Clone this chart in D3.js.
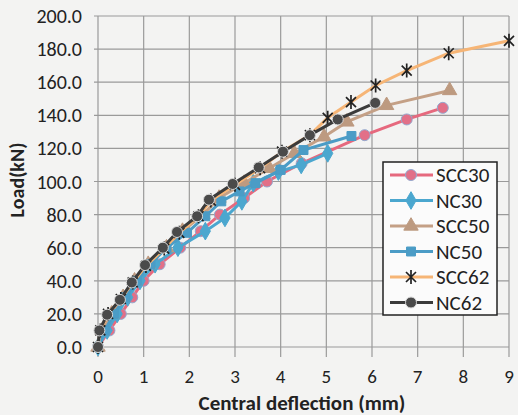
<!DOCTYPE html>
<html>
<head>
<meta charset="utf-8">
<script src="https://cdn.jsdelivr.net/npm/d3@7"></script>
<style>
body { margin: 0; background: #f3f3f2; }
svg { display: block; font-family: Carlito, Lato, "Open Sans", sans-serif; }
</style>
</head>
<body>
<div id="chart"></div>
<script>
var width = 518;
var height = 415;

// deflection (mm), load (kN)
var scc30 = [[0,0],[0.25,10],[0.5,20],[0.75,30],[1.0,40],[1.35,50],[1.8,60],[2.25,70],[2.67,80],[3.2,90],[3.7,100],[4.46,111],[5.84,128],[6.76,137.5],[7.55,144.5]];
var nc30 = [[0,0],[0.2,10],[0.42,20],[0.65,30],[0.92,40],[1.25,50],[1.75,60],[2.35,70],[2.78,78],[3.15,88],[3.4,99],[3.95,106],[4.45,110],[5.03,117]];
var scc50 = [[0,0],[0.1,10],[0.3,20],[0.55,30],[0.8,40],[1.1,50],[1.5,60],[1.85,70],[2.3,80],[2.65,90],[3.2,99],[3.75,108],[4.3,117],[4.95,127],[5.45,136],[6.32,146],[7.7,155]];
var nc50 = [[0,0],[0.15,10],[0.35,20],[0.6,30],[0.85,40],[1.15,50],[1.5,60],[1.95,69],[2.35,79],[2.7,88],[3.1,94],[3.45,99],[4.0,107],[4.5,119],[5.55,127.5]];
var scc62 = [[0,0],[0.05,10],[0.22,20],[0.5,29],[0.76,39],[1.05,49],[1.45,59.5],[1.78,69],[2.2,79],[2.47,88.5],[3.0,98],[3.55,108],[4.03,118],[4.64,128],[5.03,138.5],[5.54,148],[6.08,158],[6.76,167],[7.68,177.5],[9.0,185]];
var nc62 = [[0,0],[0.03,10],[0.2,19.5],[0.48,28.5],[0.74,39],[1.03,49.5],[1.42,60],[1.73,69.5],[2.17,79],[2.43,89],[2.95,98.5],[3.52,108.5],[4.05,118],[4.64,128],[5.25,137.5],[6.07,147.5]];

var seriesNames = ["SCC30", "NC30", "SCC50", "NC50", "SCC62", "NC62"];
var seriesData = [scc30, nc30, scc50, nc50, scc62, nc62];
var xTicks = [0,1,2,3,4,5,6,7,8,9];
var yTicks = [0,20,40,60,80,100,120,140,160,180,200];

var styles = {
    SCC30: {line: "#e6697e", marker: "circle", fill: "#e27088", stroke: "#93a9cf"},
    NC30:  {line: "#4ba7cf", marker: "diamond", fill: "#4ba7cf", stroke: "#4ba7cf"},
    SCC50: {line: "#c4a086", marker: "triangle", fill: "#bd9a80", stroke: "#bd9a80"},
    NC50:  {line: "#4b9cc6", marker: "square", fill: "#4b9cc6", stroke: "#4b9cc6"},
    SCC62: {line: "#f6b576", marker: "star", fill: "none", stroke: "#222"},
    NC62:  {line: "#3b3b3b", marker: "circle", fill: "#4a4a4a", stroke: "#d8d8d8"}
};

var svg = d3.select("#chart").append("svg")
    .attr("width", width)
    .attr("height", height);

var x = d3.scaleLinear().domain([0, 9]).range([98, 509]);
var y = d3.scaleLinear().domain([0, 200]).range([347, 16]);

// grid
svg.append("g").selectAll("line.h")
    .data(yTicks).enter().append("line")
    .attr("x1", x(0) - 4).attr("x2", x(9))
    .attr("y1", function(d) { return y(d); })
    .attr("y2", function(d) { return y(d); })
    .attr("stroke", "#9a9a9a").attr("stroke-width", 1.2);

svg.append("g").selectAll("line.v")
    .data(xTicks).enter().append("line")
    .attr("x1", function(d) { return x(d); })
    .attr("x2", function(d) { return x(d); })
    .attr("y1", y(200)).attr("y2", y(0) + 10)
    .attr("stroke", "#9a9a9a").attr("stroke-width", 1.2);

// tick labels
svg.append("g").selectAll("text")
    .data(yTicks).enter().append("text")
    .attr("x", 82)
    .attr("y", function(d) { return y(d); })
    .attr("dy", "0.35em")
    .attr("text-anchor", "end")
    .attr("font-size", 20)
    .attr("fill", "#222")
    .text(d3.format(".1f"));

svg.append("g").selectAll("text")
    .data(xTicks).enter().append("text")
    .attr("x", function(d) { return x(d); })
    .attr("y", 376)
    .attr("dy", "0.35em")
    .attr("text-anchor", "middle")
    .attr("font-size", 19)
    .attr("fill", "#222")
    .text(function(d) { return d; });

svg.append("text")
    .attr("transform", "translate(17,180) rotate(-90)")
    .attr("text-anchor", "middle")
    .attr("dy", "0.35em")
    .attr("font-size", 20)
    .attr("font-weight", "bold")
    .attr("fill", "#222")
    .text("Load(kN)");

svg.append("text")
    .attr("x", 302)
    .attr("y", 403)
    .attr("dy", "0.35em")
    .attr("text-anchor", "middle")
    .attr("font-size", 21)
    .attr("font-weight", "bold")
    .attr("fill", "#222")
    .text("Central deflection (mm)");

function markerPath(type) {
    if (type == "circle") return d3.symbol(d3.symbolCircle, 95)();
    if (type == "diamond") return d3.symbol(d3.symbolDiamond, 90)();
    if (type == "triangle") return d3.symbol(d3.symbolTriangle, 90)();
    if (type == "square") return d3.symbol(d3.symbolSquare, 80)();
    return "M-5,-5L5,5M-5,5L5,-5M0,-7L0,7";
}

var line = d3.line()
    .x(function(d) { return x(d[0]); })
    .y(function(d) { return y(d[1]); });

seriesData.forEach(function(data, i) {
    var st = styles[seriesNames[i]];
    var g = svg.append("g");
    g.append("path")
        .datum(data)
        .attr("d", line)
        .attr("fill", "none")
        .attr("stroke", st.line)
        .attr("stroke-width", 3);
    g.selectAll("path.m")
        .data(data).enter().append("path")
        .attr("transform", function(d) { return "translate(" + x(d[0]) + "," + y(d[1]) + ")"; })
        .attr("d", markerPath(st.marker))
        .attr("fill", st.fill)
        .attr("stroke", st.stroke)
        .attr("stroke-width", st.marker == "star" ? 1.7 : 1);
});

// legend
var legend = svg.append("g").attr("transform", "translate(383,162)");
legend.append("rect")
    .attr("width", 114).attr("height", 153)
    .attr("fill", "#fbfbfb")
    .attr("stroke", "#222")
    .attr("stroke-width", 1.5);

seriesNames.forEach(function(name, i) {
    var st = styles[name];
    var ly = 13 + i * 25.5;
    legend.append("line")
        .attr("x1", 7).attr("x2", 50)
        .attr("y1", ly).attr("y2", ly)
        .attr("stroke", st.line).attr("stroke-width", 3);
    legend.append("path")
        .attr("transform", "translate(28," + ly + ")")
        .attr("d", markerPath(st.marker))
        .attr("fill", st.fill)
        .attr("stroke", st.stroke)
        .attr("stroke-width", st.marker == "star" ? 1.7 : 1);
    legend.append("text")
        .attr("x", 53).attr("y", ly)
        .attr("dy", "0.35em")
        .attr("font-size", 21)
        .attr("fill", "#222")
        .text(name);
});
</script>
</body>
</html>
